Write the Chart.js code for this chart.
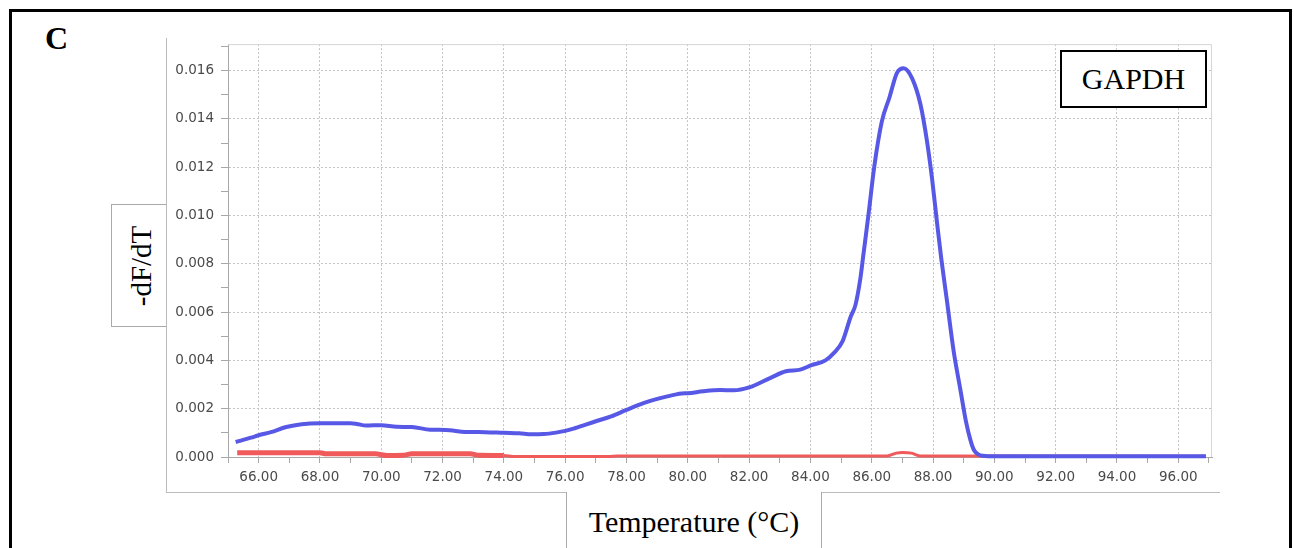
<html>

<head>
    <script src="https://cdn.jsdelivr.net/npm/chart.js@4.4.0/dist/chart.umd.min.js"></script>
    <style>
        body {
            margin: 0;
            width: 1294px;
            height: 548px;
            background: #fff;
            overflow: hidden;
            position: relative;
        }

        .outer {
            position: absolute;
            left: 9px;
            top: 9px;
            width: 1283px;
            height: 620px;
            border: 3px solid #000;
            box-sizing: border-box;
        }

        .panel {
            position: absolute;
            left: 45px;
            top: 20px;
            font: bold 32px "Liberation Serif", serif;
        }

        .vline {
            position: absolute;
            left: 166px;
            top: 38px;
            width: 1px;
            height: 455px;
            background: #bbb;
        }

        .hline {
            position: absolute;
            left: 166px;
            top: 492px;
            width: 1054px;
            height: 1px;
            background: #bbb;
        }

        .wrap {
            position: absolute;
            left: 167px;
            top: 29px;
            width: 1053px;
            height: 464px;
        }

        .ylab {
            position: absolute;
            left: 111px;
            top: 204px;
            width: 55px;
            height: 123px;
            border: 1px solid #aaa;
            border-right: none;
            background: #fff;
            box-sizing: border-box;
        }

        .ylab span {
            position: absolute;
            left: 54%;
            top: 50%;
            transform: translate(-50%, -50%) rotate(-90deg);
            font: 29px "Liberation Serif", serif;
            white-space: nowrap;
        }

        .xlab {
            position: absolute;
            left: 566px;
            top: 492px;
            width: 256px;
            height: 70px;
            border-left: 1px solid #aaa;
            border-right: 1px solid #aaa;
            background: #fff;
            box-sizing: border-box;
            font: 30px "Liberation Serif", serif;
            text-align: center;
            padding-top: 13px;
        }

        .gene {
            position: absolute;
            left: 1060px;
            top: 50px;
            width: 147px;
            height: 58px;
            border: 2px solid #000;
            box-sizing: border-box;
            background: #fff;
            font: 30px "Liberation Serif", serif;
            text-align: center;
            line-height: 54px;
        }
    </style>
</head>

<body>
    <div class="outer"></div>
    <div class="panel">C</div>
    <div class="vline"></div>
    <div class="hline"></div>
    <div class="wrap"><canvas id="canvas"></canvas></div>
    <div class="ylab"><span>-dF/dT</span></div>
    <div class="xlab">Temperature (°C)</div>
    <div class="gene">GAPDH</div>

    <script>
        // GAPDH sample (blue)
        var sampleTemp = [65.25, 65.75, 66.0, 66.4, 66.9, 67.4, 68.0, 68.5, 69.0, 69.2, 69.5, 70.0, 70.5, 71.0, 71.6, 72.1, 72.75, 73.4, 74.0, 74.5, 74.9, 75.3, 75.7, 76.0, 76.33, 77.0, 77.5, 78.0, 78.6, 79.3, 79.8, 80.0, 80.5, 81.05, 81.5, 82.0, 82.7, 83.2, 83.67, 84.03, 84.49, 84.76, 85.05, 85.31, 85.47, 85.63, 85.72, 85.9, 86.08, 86.33, 86.58, 86.82, 87.04, 87.31, 87.59, 87.8, 87.97, 88.13, 88.27, 88.45, 88.67, 88.89, 89.07, 89.22, 89.33, 89.48, 89.8, 92.0, 94.0, 96.9];
        var sampleVal = [0.00062, 0.00080, 0.00090, 0.00103, 0.00124, 0.00136, 0.00140, 0.00140, 0.00140, 0.00137, 0.00130, 0.00132, 0.00125, 0.00124, 0.00113, 0.00112, 0.00104, 0.00103, 0.00100, 0.00098, 0.00094, 0.00095, 0.00101, 0.00108, 0.00120, 0.00148, 0.00168, 0.00195, 0.00225, 0.00250, 0.00263, 0.00264, 0.00272, 0.00277, 0.00276, 0.00288, 0.00328, 0.00355, 0.00362, 0.00380, 0.00400, 0.00430, 0.00480, 0.00580, 0.00630, 0.00740, 0.00830, 0.01010, 0.01200, 0.01390, 0.01490, 0.01590, 0.01610, 0.01570, 0.01460, 0.01310, 0.01150, 0.00970, 0.00820, 0.00650, 0.00440, 0.00280, 0.00150, 0.00070, 0.00030, 0.00010, 0.00003, 0.00003, 0.00003, 0.00003];

        // no template control (red)
        var ntcTemp = [65.3, 68.0, 68.2, 69.8, 70.2, 70.7, 71.0, 72.9, 73.2, 74.0, 74.3, 77.4, 77.7, 86.5, 86.8, 87.0, 87.3, 87.6, 96.9];
        var ntcVal = [0.00018, 0.00018, 0.00013, 0.00013, 0.00006, 0.00007, 0.00013, 0.00013, 0.00007, 0.00006, 0.00002, 0.00002, 0.00004, 0.00004, 0.00016, 0.00019, 0.00016, 0.00004, 0.00003];

        var xMin = 65, xMax = 97.1;
        var yMin = 0, yMax = 0.0171;

        function pts(xs, ys) {
            return xs.map(function(x, i) { return { x: x, y: ys[i] }; });
        }

        var frame = {
            id: 'frame',
            beforeDatasetsDraw: function(chart) {
                var a = chart.chartArea, ctx = chart.ctx;
                ctx.save();
                ctx.strokeStyle = '#d6d6d6';
                ctx.lineWidth = 1;
                ctx.beginPath();
                ctx.moveTo(a.left, a.top + 0.5);
                ctx.lineTo(a.right - 0.5, a.top + 0.5);
                ctx.lineTo(a.right - 0.5, a.bottom);
                ctx.stroke();
                ctx.restore();
            }
        };

        var tickFont = { family: 'DejaVu Sans', size: 13.5 };

        new Chart(document.getElementById('canvas'), {
            type: 'line',
            data: {
                datasets: [{
                    label: 'GAPDH',
                    data: pts(sampleTemp, sampleVal),
                    borderColor: '#5858e6',
                    borderWidth: 4,
                    pointRadius: 0,
                    cubicInterpolationMode: 'monotone',
                    clip: false
                }, {
                    label: 'NTC',
                    data: pts(ntcTemp, ntcVal),
                    borderColor: '#f05a5a',
                    borderWidth: 4,
                    segment: {
                        borderWidth: function(c) { return c.p0.parsed.x < 74 ? 5 : 3; }
                    },
                    pointRadius: 0,
                    cubicInterpolationMode: 'monotone',
                    clip: false
                }]
            },
            options: {
                responsive: true,
                maintainAspectRatio: false,
                animation: false,
                layout: { padding: { left: 0, top: 6, right: 8, bottom: 0 } },
                plugins: {
                    legend: { display: false },
                    tooltip: { enabled: false }
                },
                scales: {
                    x: {
                        type: 'linear',
                        min: xMin,
                        max: xMax,
                        afterFit: function(s) { s.height = 36; },
                        border: { color: '#a8a8a8', dash: [2, 2] },
                        grid: {
                            color: function(c) { return c.tick && c.tick.value % 2 === 0 ? '#c4c4c4' : 'rgba(0,0,0,0)'; },
                            tickColor: '#a8a8a8',
                            tickLength: 6
                        },
                        ticks: {
                            stepSize: 1,
                            autoSkip: false,
                            maxRotation: 0,
                            includeBounds: false,
                            padding: 6,
                            color: '#4a4a4a',
                            font: tickFont,
                            callback: function(v) { return v % 2 === 0 ? v.toFixed(2) : ''; }
                        }
                    },
                    y: {
                        min: yMin,
                        max: yMax,
                        afterFit: function(s) { s.width = 61; },
                        border: { color: '#a8a8a8', dash: [2, 2] },
                        grid: {
                            color: function(c) {
                                if (!c.tick) return 'rgba(0,0,0,0)';
                                var k = Math.round(c.tick.value * 1000);
                                return k % 2 === 0 && k > 0 ? '#c4c4c4' : 'rgba(0,0,0,0)';
                            },
                            tickColor: '#a8a8a8',
                            tickLength: 7
                        },
                        ticks: {
                            stepSize: 0.001,
                            autoSkip: false,
                            includeBounds: false,
                            padding: 7,
                            color: '#4a4a4a',
                            font: tickFont,
                            callback: function(v) { return Math.round(v * 1000) % 2 === 0 ? v.toFixed(3) : ''; }
                        }
                    }
                }
            },
            plugins: [frame]
        });
    </script>
</body>

</html>
